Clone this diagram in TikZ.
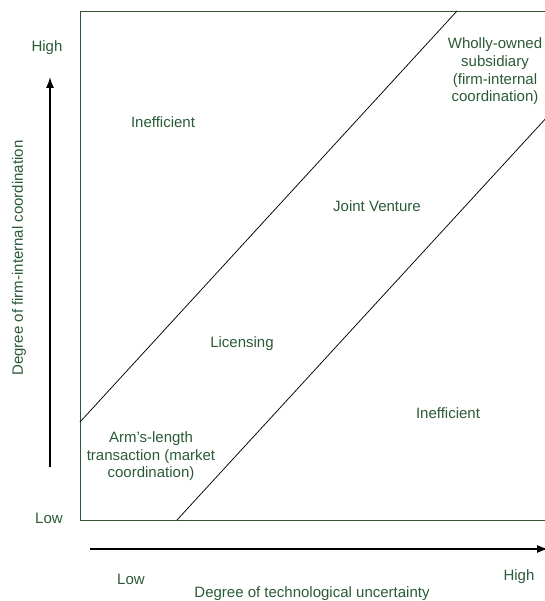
\documentclass[tikz,border=0pt]{standalone}
\usepackage{fontspec}
\setmainfont{Liberation Sans}
\usetikzlibrary{arrows.meta}
\definecolor{txtgreen}{HTML}{2B5A37}
\definecolor{boxgreen}{HTML}{2F5637}
\tikzset{
  lbl/.style={text=txtgreen, font=\fontsize{15}{17.6}\selectfont, inner sep=0pt, align=center},
  frameline/.style={draw=boxgreen, line width=0.9pt},
  diag/.style={draw=black, line width=0.75pt},
  axisarrow/.style={draw=black, line width=1.4pt, -{Latex[length=11pt,width=8pt]}}
}
\begin{document}
\begin{tikzpicture}[x=1pt,y=-1pt]
\useasboundingbox (0,0) rectangle (544,601);
% frame
\coordinate (fTR) at (548,11);
\coordinate (fTL) at (80,11);
\coordinate (fBL) at (80,520);
\coordinate (fBR) at (548,520);
\draw[frameline] (fTR) -- (fTL) -- (fBL) -- (fBR);
% diagonals
\coordinate (d1a) at (80,422);
\coordinate (d1b) at (457,11);
\coordinate (d2a) at (177,520);
\coordinate (d2b) at (548,116);
\draw[diag] (d1a) -- (d1b);
\draw[diag] (d2a) -- (d2b);
% axes
\coordinate (vA) at (50,467);
\coordinate (vB) at (50,77);
\coordinate (hA) at (90,549);
\coordinate (hB) at (548,549);
\draw[axisarrow] (vA) -- (vB);
\draw[axisarrow] (hA) -- (hB);
% axis labels
\node[lbl] (yhigh) at (47,48) {High};
\node[lbl] (ylow) at (49,518) {Low};
\node[lbl] (xlow) at (131,579) {Low};
\node[lbl] (xhigh) at (519,577) {High};
\node[lbl] (xtitle) at (312,594) {Degree of technological uncertainty};
\node[lbl, rotate=90] (ytitle) at (19,258) {Degree of firm-internal coordination};
% region labels
\node[lbl] (ineff1) at (163,122) {Inefficient};
\node[lbl] (jv) at (377,206) {Joint Venture};
\node[lbl] (lic) at (242,344) {Licensing};
\node[lbl] (ineff2) at (448,413) {Inefficient};
\node[lbl] (arm) at (151,456.5) {Arm’s-length\\transaction (market\\coordination)};
\node[lbl] (wos) at (495,71.5) {Wholly-owned\\subsidiary\\(firm-internal\\coordination)};
\end{tikzpicture}
\end{document}
